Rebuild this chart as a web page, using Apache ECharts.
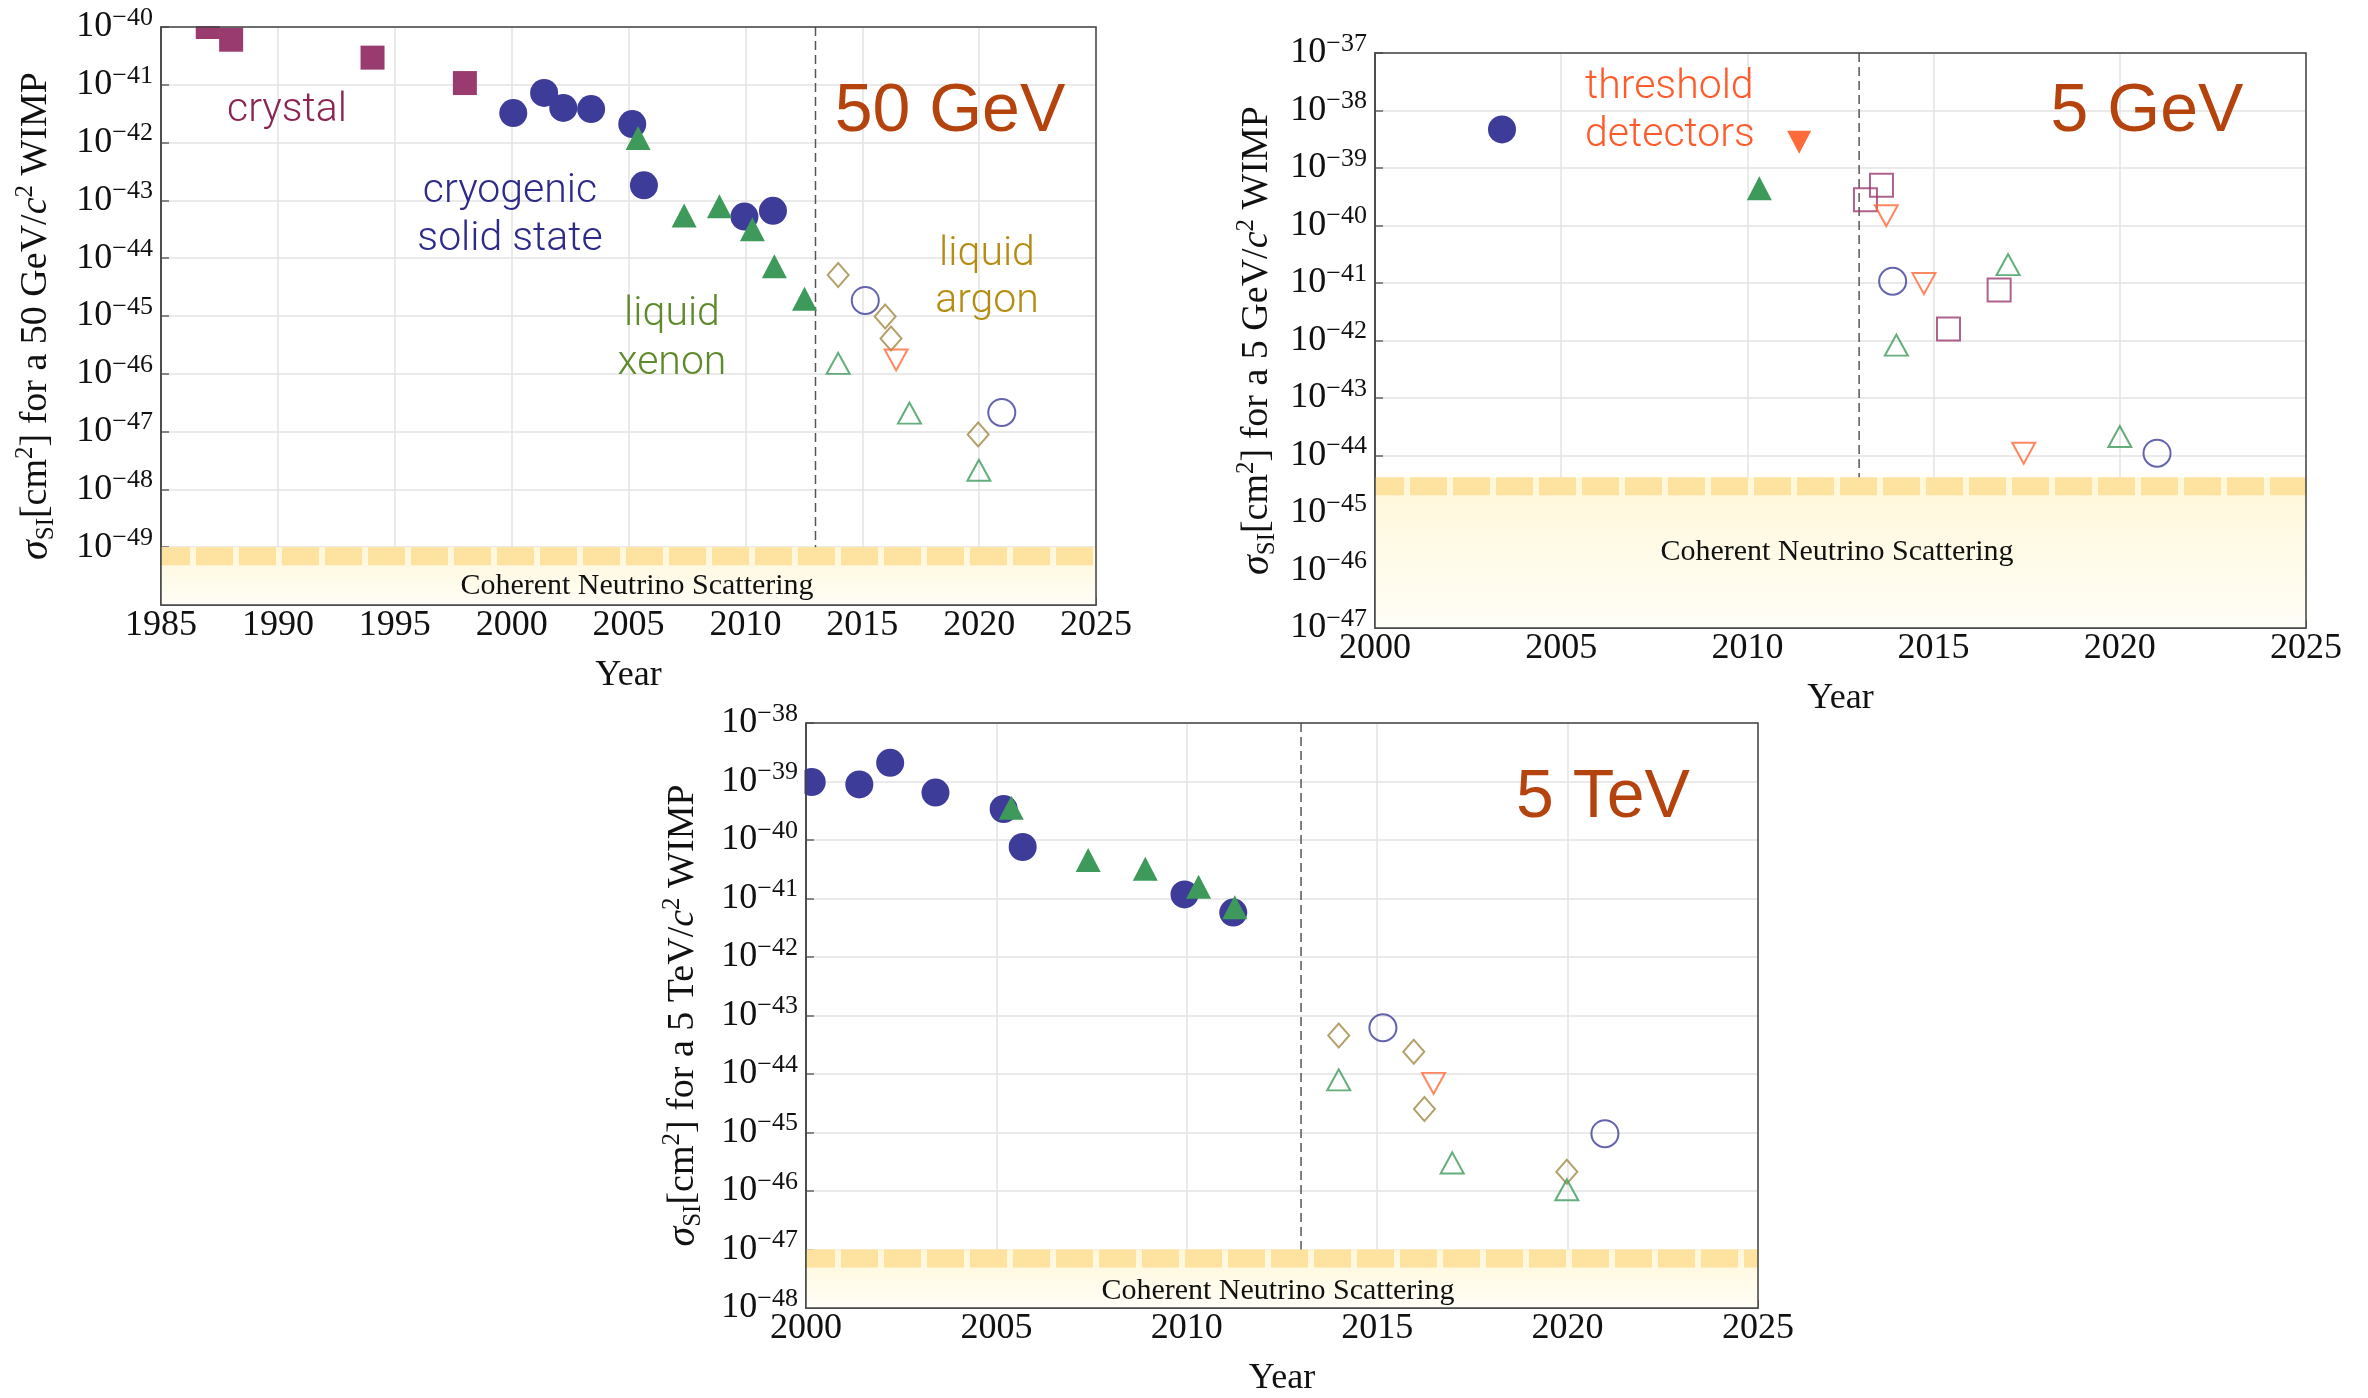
<!DOCTYPE html>
<html>
<head>
<meta charset="utf-8">
<script src="https://cdn.jsdelivr.net/npm/echarts@6/dist/echarts.min.js"></script>
<style>
  html, body { margin: 0; padding: 0; background: #ffffff; }
  #chart { width: 2368px; height: 1398px; }
</style>
</head>
<body>
<div id="chart"></div>
<script>
// Spin-independent WIMP–nucleon cross-section limits versus year,
// for three WIMP masses. All values are log10(σ_SI / cm²).
// Filled markers: published limits; open markers: later results/projections.

// ---------- 50 GeV ----------
const gev50CrystalFilled = [[1987.0, -40.0], [1988.0, -40.22], [1994.05, -40.53], [1998.0, -40.97]];
const gev50CryoFilled = [[2000.07, -41.49], [2001.39, -41.14], [2002.21, -41.40], [2003.40, -41.42],
                         [2005.16, -41.68], [2005.66, -42.74], [2009.96, -43.28], [2011.18, -43.18]];
const gev50XenonFilled = [[2005.41, -41.92], [2007.38, -43.26], [2008.89, -43.10], [2010.30, -43.50],
                          [2011.24, -44.14], [2012.53, -44.70]];
const gev50ArgonOpen = [[2013.97, -44.29], [2015.98, -45.01], [2016.23, -45.39], [2019.96, -47.05]];
const gev50CryoOpen = [[2015.13, -44.73], [2020.97, -46.67]];
const gev50XenonOpen = [[2013.97, -45.82], [2017.02, -46.68], [2019.99, -47.67]];
const gev50ThresholdOpen = [[2016.45, -45.76]];

// ---------- 5 GeV ----------
const gev5CryoFilled = [[2003.41, -38.33]];
const gev5XenonFilled = [[2010.32, -39.35]];
const gev5ThresholdFilled = [[2011.39, -38.55]];
const gev5CrystalOpen = [[2013.17, -39.55], [2013.60, -39.30], [2015.40, -41.80], [2016.76, -41.12]];
const gev5ThresholdOpen = [[2013.73, -39.83], [2014.74, -41.01], [2017.42, -43.96]];
const gev5CryoOpen = [[2013.90, -40.97], [2021.00, -43.96]];
const gev5XenonOpen = [[2014.00, -42.08], [2017.00, -40.68], [2020.00, -43.67]];

// ---------- 5 TeV ----------
const tev5CryoFilled = [[2000.15, -39.01], [2001.40, -39.05], [2002.21, -38.68], [2003.40, -39.19],
                        [2005.19, -39.47], [2005.69, -40.12], [2009.94, -40.93], [2011.22, -41.24]];
const tev5XenonFilled = [[2005.39, -39.45], [2007.41, -40.34], [2008.91, -40.49], [2010.31, -40.80],
                         [2011.26, -41.15]];
const tev5ArgonOpen = [[2013.99, -43.34], [2015.96, -43.62], [2016.24, -44.60], [2019.98, -45.67]];
const tev5CryoOpen = [[2015.15, -43.21], [2020.98, -45.02]];
const tev5XenonOpen = [[2013.99, -44.10], [2016.97, -45.52], [2019.98, -45.98]];
const tev5ThresholdOpen = [[2016.48, -44.16]];

// Axis ranges, neutrino floor and the divider year, per panel
const panelMasses = ['50 GeV', '5 GeV', '5 TeV'];
const xRanges = [[1985, 2025], [2000, 2025], [2000, 2025]];
const yRanges = [[-50, -40], [-47, -37], [-48, -38]];
const neutrinoFloor = [-49, -44.38, -47];
const dividerYear = 2013;
const floorLabel = 'Coherent Neutrino Scattering';

// ---------- styling ----------
const SERIF = '"Liberation Serif", "Times New Roman", serif';
const SANS = 'Roboto, "Liberation Sans", Arial, sans-serif';
const SANS_WIDE = '"Liberation Sans", Arial, sans-serif';

const COLORS = {
  cryo: '#3d3c99',
  crystal: '#9a3b6f',
  xenon: '#3d9a5b',
  argon: '#a08a44',
  threshold: '#ff6a3a'
};
const SHAPES = {
  circle:   { symbol: 'circle',   filled: 28,       open: 27 },
  square:   { symbol: 'rect',     filled: 24,       open: 23 },
  triangle: { symbol: 'triangle', filled: [25, 24], open: [23, 21] },
  diamond:  { symbol: 'diamond',  filled: [22, 25], open: [21, 24] },
  down:     { symbol: 'triangle', filled: [24, 23], open: [23, 21], rotate: 180 }
};

function scatter(data, panel, group, shape, open) {
  const s = SHAPES[shape];
  const c = COLORS[group];
  return {
    type: 'scatter',
    xAxisIndex: panel,
    yAxisIndex: panel,
    data: data,
    symbol: s.symbol,
    symbolSize: open ? s.open : s.filled,
    symbolRotate: s.rotate || 0,
    clip: false,
    silent: true,
    z: 5,
    itemStyle: open
      ? { color: 'rgba(0,0,0,0)', borderColor: c, borderWidth: 2 }
      : { color: c, borderWidth: 0, opacity: 1 }
  };
}

// Neutrino-floor band: dashed strip along the floor, pale gradient below it
function floorSeries(panel) {
  return {
    type: 'custom',
    xAxisIndex: panel,
    yAxisIndex: panel,
    silent: true,
    z: 3,
    encode: { x: [0, 2], y: [1, 3] },
    data: [[xRanges[panel][0], neutrinoFloor[panel], xRanges[panel][1], yRanges[panel][0]]],
    renderItem: function (params, api) {
      const p0 = api.coord([api.value(0), api.value(1)]);
      const p1 = api.coord([api.value(2), api.value(3)]);
      return {
        type: 'group',
        children: [
          {
            type: 'rect',
            shape: { x: p0[0], y: p0[1], width: p1[0] - p0[0], height: p1[1] - p0[1] },
            style: {
              fill: new echarts.graphic.LinearGradient(0, 0, 0, 1, [
                { offset: 0, color: '#fff7d8' },
                { offset: 1, color: '#fffef7' }
              ])
            }
          },
          {
            type: 'line',
            shape: { x1: p0[0], y1: p0[1] + 9, x2: p1[0], y2: p0[1] + 9 },
            style: { stroke: '#fee2a0', lineWidth: 18, lineDash: [37, 6], lineDashOffset: 8 }
          }
        ]
      };
    }
  };
}

function dividerSeries(panel) {
  return {
    type: 'line',
    xAxisIndex: panel,
    yAxisIndex: panel,
    data: [[dividerYear, yRanges[panel][1]], [dividerYear, neutrinoFloor[panel]]],
    symbol: 'none',
    silent: true,
    z: 4,
    lineStyle: { color: '#555555', width: 1.5, type: [9, 5] }
  };
}

const grids = [
  { left: 161, top: 27, width: 935, height: 578 },
  { left: 1375, top: 53, width: 931, height: 575 },
  { left: 806, top: 723, width: 952, height: 588 }
].map(g => Object.assign(g, {
  show: true, z: 10, borderColor: '#444444', borderWidth: 1.5,
  backgroundColor: 'rgba(0,0,0,0)', containLabel: false
}));

const yNameGaps = [102, 95, 100];

function sigmaName(mass) {
  return '{g|σ}{sub|SI}{n|[cm}{sup|2}{n|] for a ' + mass + '/}{i|c}{sup|2}{n| WIMP}';
}

const nameRich = {
  n:   { fontFamily: SERIF, fontSize: 38, lineHeight: 46, color: '#111' },
  g:   { fontFamily: SERIF, fontSize: 40, fontStyle: 'italic', lineHeight: 46, color: '#111' },
  i:   { fontFamily: SERIF, fontSize: 38, fontStyle: 'italic', lineHeight: 46, color: '#111' },
  sub: { fontFamily: SERIF, fontSize: 25, lineHeight: 25, verticalAlign: 'bottom', color: '#111' },
  sup: { fontFamily: SERIF, fontSize: 25, lineHeight: 25, verticalAlign: 'top', color: '#111' }
};

const tickRich = {
  b: { fontFamily: SERIF, fontSize: 36, lineHeight: 44, color: '#111' },
  e: { fontFamily: SERIF, fontSize: 26, lineHeight: 26, verticalAlign: 'top', color: '#111' }
};

const xAxes = xRanges.map((r, i) => ({
  gridIndex: i,
  type: 'value',
  min: r[0],
  max: r[1],
  interval: 5,
  name: 'Year',
  nameLocation: 'middle',
  nameGap: 53,
  nameTextStyle: { fontFamily: SERIF, fontSize: 36, color: '#111' },
  axisLine: { show: true, onZero: false, lineStyle: { color: '#444444', width: 1.5 } },
  axisTick: { show: true, inside: true, length: 8, lineStyle: { color: '#666666', width: 1.5 } },
  axisLabel: {
    fontFamily: SERIF, fontSize: 36, color: '#111', margin: 3,
    showMinLabel: true, showMaxLabel: true,
    formatter: function (v) { return String(Math.round(v)); }
  },
  splitLine: { show: true, lineStyle: { color: '#e3e3e3', width: 1.5 } }
}));

const yAxes = yRanges.map((r, i) => ({
  gridIndex: i,
  type: 'value',
  min: r[0],
  max: r[1],
  interval: 1,
  name: sigmaName(panelMasses[i]),
  nameLocation: 'middle',
  nameGap: yNameGaps[i],
  nameRotate: 90,
  nameTextStyle: { rich: nameRich },
  axisLine: { show: true, onZero: false, lineStyle: { color: '#444444', width: 1.5 } },
  axisTick: { show: true, inside: true, length: 8, lineStyle: { color: '#666666', width: 1.5 } },
  axisLabel: {
    margin: 8,
    showMinLabel: true,
    showMaxLabel: true,
    rich: tickRich,
    formatter: function (v) {
      const e = Math.round(v);
      if (i === 0 && e === r[0]) return '';
      return '{b|10}{e|\u2212' + Math.abs(e) + '}';
    }
  },
  splitLine: { show: true, lineStyle: { color: '#e3e3e3', width: 1.5 } }
}));

const series = [
  // 50 GeV
  floorSeries(0), dividerSeries(0),
  scatter(gev50CrystalFilled, 0, 'crystal', 'square', false),
  scatter(gev50CryoFilled, 0, 'cryo', 'circle', false),
  scatter(gev50XenonFilled, 0, 'xenon', 'triangle', false),
  scatter(gev50ArgonOpen, 0, 'argon', 'diamond', true),
  scatter(gev50CryoOpen, 0, 'cryo', 'circle', true),
  scatter(gev50XenonOpen, 0, 'xenon', 'triangle', true),
  scatter(gev50ThresholdOpen, 0, 'threshold', 'down', true),
  // 5 GeV
  floorSeries(1), dividerSeries(1),
  scatter(gev5CryoFilled, 1, 'cryo', 'circle', false),
  scatter(gev5XenonFilled, 1, 'xenon', 'triangle', false),
  scatter(gev5ThresholdFilled, 1, 'threshold', 'down', false),
  scatter(gev5CrystalOpen, 1, 'crystal', 'square', true),
  scatter(gev5ThresholdOpen, 1, 'threshold', 'down', true),
  scatter(gev5CryoOpen, 1, 'cryo', 'circle', true),
  scatter(gev5XenonOpen, 1, 'xenon', 'triangle', true),
  // 5 TeV
  floorSeries(2), dividerSeries(2),
  scatter(tev5CryoFilled, 2, 'cryo', 'circle', false),
  scatter(tev5XenonFilled, 2, 'xenon', 'triangle', false),
  scatter(tev5ArgonOpen, 2, 'argon', 'diamond', true),
  scatter(tev5CryoOpen, 2, 'cryo', 'circle', true),
  scatter(tev5XenonOpen, 2, 'xenon', 'triangle', true),
  scatter(tev5ThresholdOpen, 2, 'threshold', 'down', true)
];

function label(text, x, y, size, color, align, font, weight) {
  return {
    type: 'text', x: x, y: y, z: 60, silent: true,
    style: {
      text: text, fill: color,
      font: (weight || '300') + ' ' + size + 'px ' + (font || SANS),
      align: align || 'center', verticalAlign: 'middle',
      textAlign: align || 'center', textVerticalAlign: 'middle'
    }
  };
}

const graphic = [
  // keep symbols inside the plotting frames
  { type: 'rect', z: 50, silent: true, shape: { x: 158, y: 0, width: 945, height: 26 }, style: { fill: '#ffffff' } },
  { type: 'rect', z: 50, silent: true, shape: { x: 797.5, y: 760, width: 7, height: 45 }, style: { fill: '#ffffff' } },

  // 50 GeV annotations
  label('50 GeV', 950, 112, 68, '#b4430e', 'center', SANS_WIDE, 'normal'),
  label('crystal', 227, 111, 41, '#8a2552', 'left'),
  label('cryogenic', 510, 192, 41, '#2d2a8a'),
  label('solid state', 510, 240, 41, '#2d2a8a'),
  label('liquid', 672, 315, 41, '#5f8a2b'),
  label('xenon', 672, 364, 41, '#5f8a2b'),
  label('liquid', 987, 255, 41, '#b58c12'),
  label('argon', 987, 302, 41, '#b58c12'),
  label(floorLabel, 637, 586, 30, '#111', 'center', SERIF, 'normal'),

  // 5 GeV annotations
  label('5 GeV', 2147, 112, 68, '#b4430e', 'center', SANS_WIDE, 'normal'),
  label('threshold', 1585, 88, 41, '#ff5a2c', 'left'),
  label('detectors', 1585, 136, 41, '#ff5a2c', 'left'),
  label(floorLabel, 1837, 552, 30, '#111', 'center', SERIF, 'normal'),

  // 5 TeV annotations
  label('5 TeV', 1603, 798, 68, '#b4430e', 'center', SANS_WIDE, 'normal'),
  label(floorLabel, 1278, 1291, 30, '#111', 'center', SERIF, 'normal')
];

const chart = echarts.init(document.getElementById('chart'), null, { renderer: 'canvas' });
chart.setOption({
  backgroundColor: '#ffffff',
  animation: false,
  grid: grids,
  xAxis: xAxes,
  yAxis: yAxes,
  series: series,
  graphic: graphic
});
</script>
</body>
</html>
